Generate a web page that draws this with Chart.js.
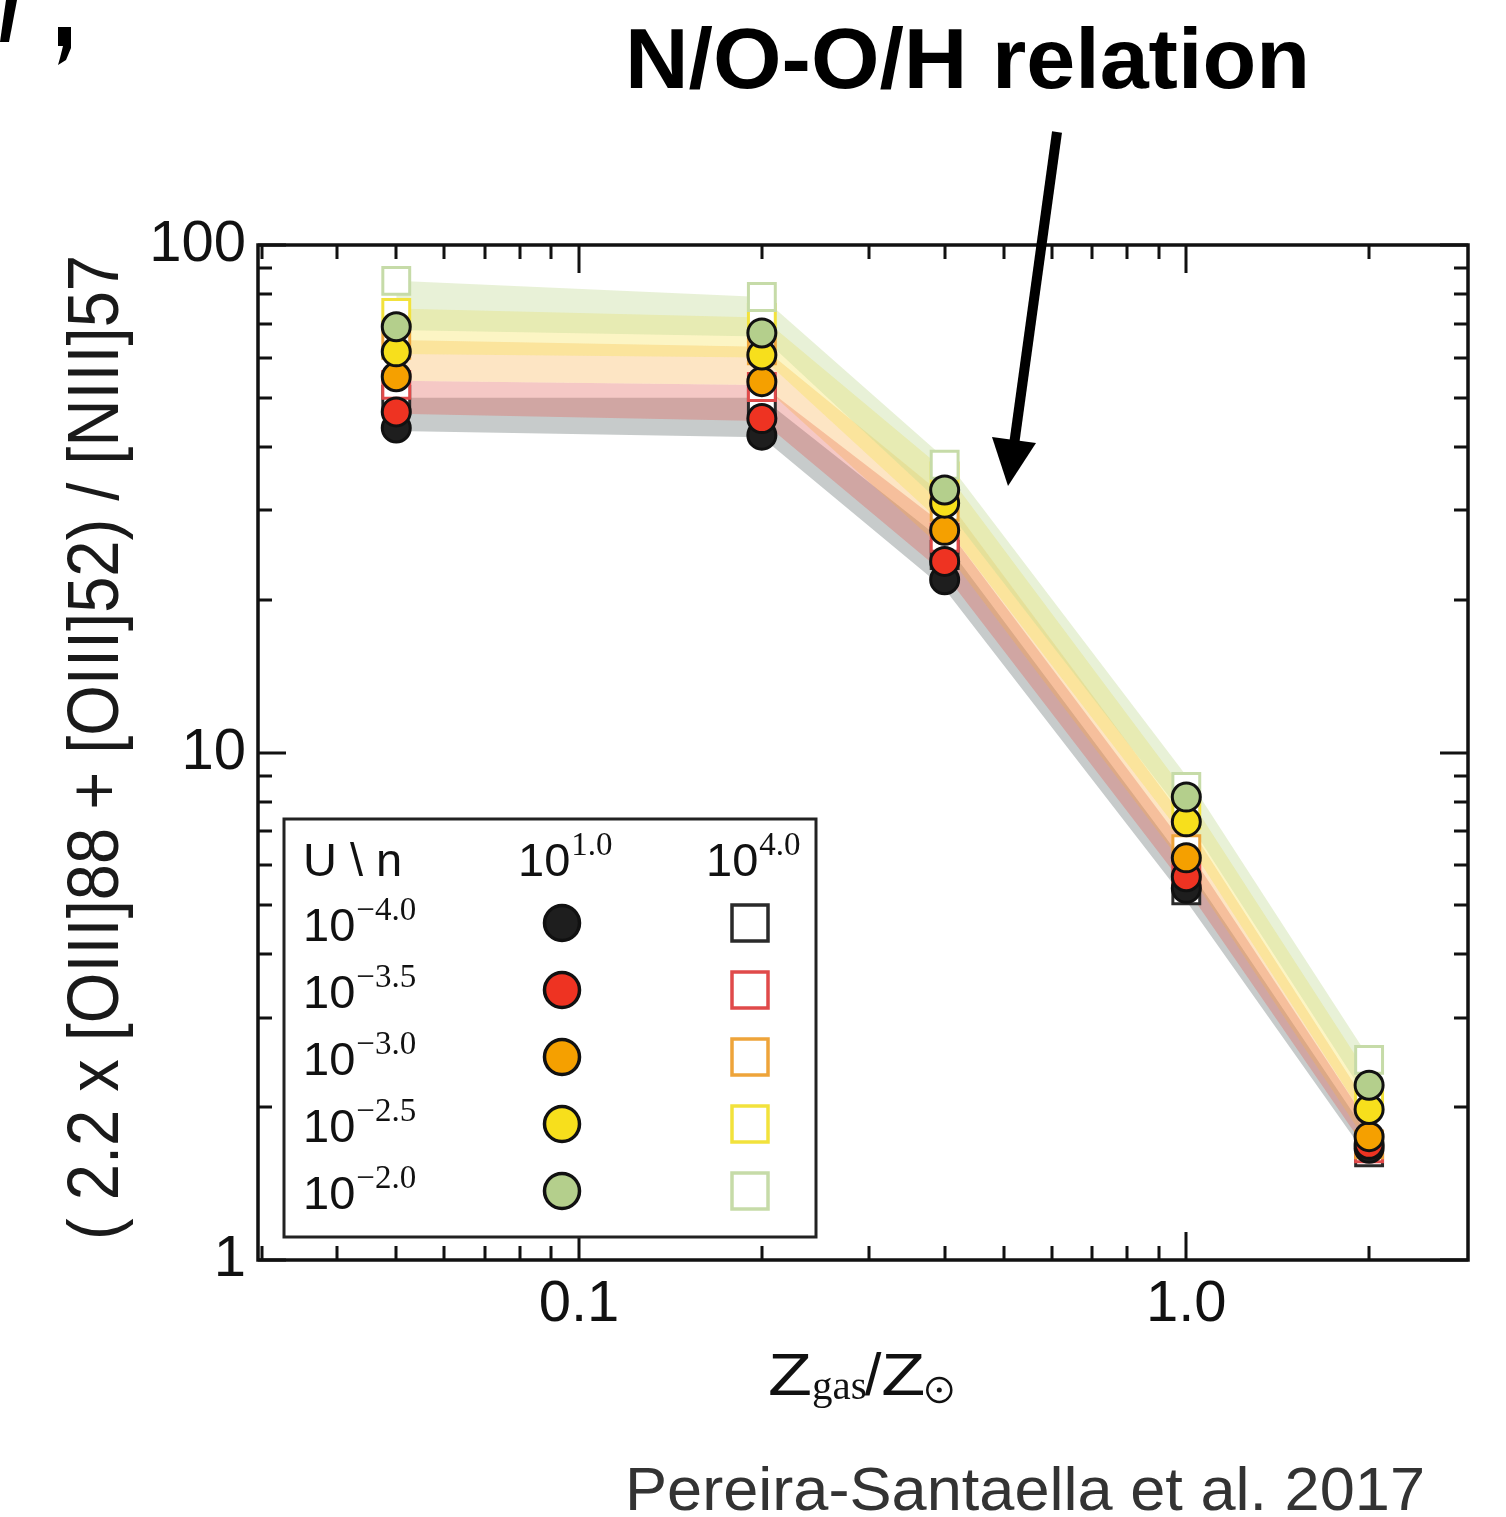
<!DOCTYPE html>
<html><head><meta charset="utf-8">
<script src="https://cdn.jsdelivr.net/npm/chart.js@4.4.0/dist/chart.umd.min.js"></script>
<style>html,body{margin:0;padding:0;background:#fff;}#wrap{position:relative;width:1506px;height:1517px;}</style>
</head><body><div id="wrap"><canvas id="c"></canvas></div>
<script>
// ---- data ----
const zValues = [0.05, 0.2, 0.4, 1.0, 2.0];
const uLabels = ['\u22124.0', '\u22123.5', '\u22123.0', '\u22122.5', '\u22122.0'];
const nLabels = ['1.0', '4.0'];
// n = 10^1 (circles)
const lowN_Um40 = [43.6, 42.2, 21.9, 5.40, 1.66];
const lowN_Um35 = [46.9, 45.5, 23.8, 5.69, 1.69];
const lowN_Um30 = [55.0, 53.8, 27.4, 6.20, 1.75];
const lowN_Um25 = [61.6, 60.7, 31.0, 7.30, 1.98];
const lowN_Um20 = [69.0, 67.1, 32.9, 8.17, 2.21];
// n = 10^4 (squares)
const highN_Um40 = [49.5, 49.5, 24.5, 5.35, 1.63];
const highN_Um35 = [53.0, 52.5, 26.5, 5.75, 1.66];
const highN_Um30 = [63.6, 62.0, 30.5, 6.45, 1.69];
const highN_Um25 = [73.5, 71.8, 35.0, 7.55, 2.08];
const highN_Um20 = [85.0, 79.0, 36.9, 8.55, 2.48];
// shaded model ranges (upper / lower edge of each band)
const bandHi_Um40 = [50.0, 50.0, 26.0, 6.00, 1.75];
const bandLo_Um40 = [43.0, 41.8, 21.0, 5.10, 1.58];
const bandHi_Um35 = [54.0, 53.0, 28.0, 6.50, 1.85];
const bandLo_Um35 = [46.5, 45.0, 22.5, 5.40, 1.62];
const bandHi_Um30 = [65.0, 63.0, 32.0, 7.30, 2.00];
const bandLo_Um30 = [54.0, 53.0, 25.0, 5.90, 1.68];
const bandHi_Um25 = [75.0, 72.0, 36.0, 8.30, 2.30];
const bandLo_Um25 = [61.0, 60.0, 28.0, 6.70, 1.85];
const bandHi_Um20 = [85.0, 79.0, 38.0, 9.00, 2.50];
const bandLo_Um20 = [68.0, 66.0, 30.5, 7.40, 2.05];
const xTickValues = [0.1, 1];
const xTickLabels = ['0.1', '1.0'];
const yTickValues = [1, 10, 100];
const yTickLabels = ['1', '10', '100'];

const lowN = [lowN_Um40, lowN_Um35, lowN_Um30, lowN_Um25, lowN_Um20];
const highN = [highN_Um40, highN_Um35, highN_Um30, highN_Um25, highN_Um20];
const bandHi = [bandHi_Um40, bandHi_Um35, bandHi_Um30, bandHi_Um25, bandHi_Um20];
const bandLo = [bandLo_Um40, bandLo_Um35, bandLo_Um30, bandLo_Um25, bandLo_Um20];

// ---- styles ----
const circleFill = ['#1e1e1e', '#ee3322', '#f5a000', '#f7df1c', '#b4cf8c'];
const squareEdge = ['#2a2a2a', '#e04a4a', '#eea43a', '#f2e23c', '#c6dba8'];
const bandFill = ['rgba(115,125,125,0.40)', 'rgba(225,95,85,0.34)', 'rgba(248,175,70,0.32)', 'rgba(245,225,70,0.32)', 'rgba(195,218,150,0.38)'];

const pts = arr => arr.map((v, i) => ({x: zValues[i], y: v}));
const datasets = [];
for (let k = 4; k >= 0; k--) {
  datasets.push({type:'line', data: pts(lowN[k]), showLine:false, pointStyle:'circle', pointRadius:14,
    pointBackgroundColor: circleFill[k], pointBorderColor:'#111', pointBorderWidth:3, borderWidth:0, fill:false});
}
for (let k = 4; k >= 0; k--) {
  datasets.push({type:'line', data: pts(highN[k]), showLine:false, pointStyle:'rect', pointRadius:19,
    pointBackgroundColor:'#ffffff', pointBorderColor: squareEdge[k], pointBorderWidth:3, borderWidth:0, fill:false});
}
for (let k = 4; k >= 0; k--) {
  const idx = datasets.length;
  datasets.push({type:'line', data: pts(bandHi[k]), showLine:true, pointRadius:0, borderWidth:0,
    borderColor:'rgba(0,0,0,0)', backgroundColor: bandFill[k], fill: idx + 1});
  datasets.push({type:'line', data: pts(bandLo[k]), showLine:true, pointRadius:0, borderWidth:0,
    borderColor:'rgba(0,0,0,0)', backgroundColor:'rgba(0,0,0,0)', fill:false});
}

const xMinor = [], yMinor = [];
for (let d of [0.01, 0.1, 1]) for (let m = 2; m <= 9; m++) { const v = d * m; if (v > 0.0296 && v < 2.91) xMinor.push(v); }
for (let d of [1, 10]) for (let m = 2; m <= 9; m++) yMinor.push(d * m);

function fitText(ctx, txt, x, y, targetW) {
  const w = ctx.measureText(txt).width;
  ctx.save(); ctx.translate(x, y); ctx.scale(targetW / w, 1); ctx.fillText(txt, 0, 0); ctx.restore();
}

const framePlugin = {
  id: 'frameTicks',
  afterDatasetsDraw(chart) {
    const {ctx, chartArea: a, scales: {x, y}} = chart;
    ctx.save();
    ctx.strokeStyle = '#111'; ctx.lineWidth = 3; ctx.lineCap = 'butt';
    ctx.beginPath();
    const vt = (px, len) => { ctx.moveTo(px, a.bottom); ctx.lineTo(px, a.bottom - len); ctx.moveTo(px, a.top); ctx.lineTo(px, a.top + len); };
    const ht = (py, len) => { ctx.moveTo(a.left, py); ctx.lineTo(a.left + len, py); ctx.moveTo(a.right, py); ctx.lineTo(a.right - len, py); };
    xMinor.forEach(v => vt(Math.round(x.getPixelForValue(v)), 14));
    xTickValues.forEach(v => vt(Math.round(x.getPixelForValue(v)), 28));
    yMinor.forEach(v => ht(Math.round(y.getPixelForValue(v)), 14));
    yTickValues.forEach(v => ht(Math.round(y.getPixelForValue(v)), 28));
    ctx.stroke();
    ctx.lineWidth = 3.5;
    ctx.strokeRect(a.left, a.top, a.right - a.left, a.bottom - a.top);
    ctx.restore();
  },
  afterDraw(chart) {
    const ctx = chart.ctx;
    ctx.save();
    // legend box
    const L = 284, T = 819, R = 816, B = 1237;
    ctx.fillStyle = '#fff'; ctx.fillRect(L, T, R - L, B - T);
    ctx.strokeStyle = '#222'; ctx.lineWidth = 3; ctx.strokeRect(L, T, R - L, B - T);
    ctx.fillStyle = '#111'; ctx.textBaseline = 'alphabetic'; ctx.textAlign = 'left';
    ctx.font = '47px "Liberation Sans", Arial, sans-serif';
    ctx.fillText('U \\ n', 303, 876);
    const supFont = '33px "Liberation Serif", "DejaVu Serif", serif';
    const tenWithSup = (xx, base, sup) => {
      ctx.font = '47px "Liberation Sans", Arial, sans-serif';
      ctx.fillText('10', xx, base);
      const w = ctx.measureText('10').width;
      ctx.font = supFont;
      ctx.fillText(sup, xx + w + 1, base - 21);
    };
    tenWithSup(518, 876, nLabels[0]);
    tenWithSup(706, 876, nLabels[1]);
    const rowY = [923, 990, 1057, 1124, 1191];
    for (let k = 0; k < 5; k++) {
      const cy = rowY[k];
      tenWithSup(303, cy + 18, uLabels[k]);
      ctx.beginPath(); ctx.arc(562, cy, 17.5, 0, Math.PI * 2);
      ctx.fillStyle = circleFill[k]; ctx.fill();
      ctx.lineWidth = 3.5; ctx.strokeStyle = '#111'; ctx.stroke();
      ctx.fillStyle = '#111';
      ctx.lineWidth = 3.5; ctx.strokeStyle = squareEdge[k];
      ctx.strokeRect(750 - 18, cy - 18, 36, 36);
    }
    // title
    ctx.fillStyle = '#000';
    ctx.font = 'bold 86px "Liberation Sans", Arial, sans-serif';
    fitText(ctx, 'N/O-O/H relation', 625, 88, 685);
    // arrow
    ctx.strokeStyle = '#000'; ctx.lineWidth = 10; ctx.lineCap = 'butt';
    ctx.beginPath(); ctx.moveTo(1057, 132); ctx.lineTo(1014, 445); ctx.stroke();
    ctx.beginPath(); ctx.moveTo(992, 437); ctx.lineTo(1036, 443); ctx.lineTo(1008, 486); ctx.closePath(); ctx.fill();
    // top-left fragment marks
    ctx.beginPath(); ctx.moveTo(6, 0); ctx.lineTo(17, 0); ctx.lineTo(9, 42); ctx.lineTo(0, 42); ctx.closePath(); ctx.fill();
    ctx.beginPath(); ctx.moveTo(58, 27); ctx.lineTo(71, 27); ctx.lineTo(71, 48); ctx.lineTo(66, 60); ctx.lineTo(58, 65); ctx.lineTo(60, 58); ctx.lineTo(63, 46); ctx.lineTo(58, 46); ctx.closePath(); ctx.fill();
    // citation
    ctx.fillStyle = '#333';
    ctx.font = '62px "Liberation Sans", Arial, sans-serif';
    fitText(ctx, 'Pereira-Santaella et al. 2017', 625, 1510, 800);
    // y-axis title
    ctx.fillStyle = '#1a1a1a';
    ctx.save();
    ctx.translate(118, 1240); ctx.rotate(-Math.PI / 2);
    ctx.font = '72px "Liberation Sans Narrow", "Liberation Sans", Arial, sans-serif';
    ctx.textBaseline = 'alphabetic';
    const yt = '( 2.2 x [OIII]88 + [OIII]52) / [NIII]57';
    const yw = ctx.measureText(yt).width;
    ctx.scale(985 / yw, 1); ctx.fillText(yt, 0, 0);
    ctx.restore();
    // x-axis title
    ctx.fillStyle = '#111';
    let cx = 768;
    ctx.font = '60px "Liberation Sans", Arial, sans-serif';
    ctx.save(); ctx.translate(cx, 1395); ctx.scale(1.2, 1); ctx.fillText('Z', 0, 0); ctx.restore();
    cx += ctx.measureText('Z').width * 1.2;
    ctx.font = '41px "Liberation Serif", "DejaVu Serif", serif';
    ctx.fillText('gas', cx, 1399); cx += ctx.measureText('gas').width;
    ctx.font = '60px "Liberation Sans", Arial, sans-serif';
    ctx.fillText('/', cx - 2, 1395); cx += ctx.measureText('/').width - 2;
    ctx.save(); ctx.translate(cx, 1395); ctx.scale(1.2, 1); ctx.fillText('Z', 0, 0); ctx.restore();
    cx += ctx.measureText('Z').width * 1.2;
    ctx.beginPath(); ctx.lineWidth = 2.5; ctx.strokeStyle = '#111';
    ctx.arc(cx + 14, 1390, 12, 0, Math.PI * 2); ctx.stroke();
    ctx.beginPath(); ctx.arc(cx + 14, 1390, 2.5, 0, Math.PI * 2); ctx.fill();
    ctx.restore();
  }
};

const tickFont = {family: '"Liberation Sans", Arial, sans-serif', size: 58};
new Chart(document.getElementById('c'), {
  type: 'line',
  data: {datasets},
  options: {
    responsive: true, maintainAspectRatio: false, animation: false, devicePixelRatio: 1,
    layout: {padding: {top: 245, right: 38, left: 0, bottom: 0}},
    plugins: {legend: {display: false}, tooltip: {enabled: false}, filler: {drawTime: 'beforeDatasetsDraw'}},
    scales: {
      x: {type: 'logarithmic', min: 0.0296, max: 2.91,
        grid: {display: false, drawTicks: false}, border: {display: false},
        afterBuildTicks: s => { s.ticks = xTickValues.map(v => ({value: v})); },
        afterFit: s => { s.height = 257; },
        ticks: {autoSkip: false, maxRotation: 0, padding: 10, color: '#111', font: tickFont,
          callback: (v, i) => xTickLabels[i]}},
      y: {type: 'logarithmic', min: 1, max: 100,
        grid: {display: false, drawTicks: false}, border: {display: false},
        afterBuildTicks: s => { s.ticks = yTickValues.map(v => ({value: v})); },
        afterFit: s => { s.width = 258; },
        ticks: {autoSkip: false, padding: 12, color: '#111', font: tickFont,
          callback: (v, i) => yTickLabels[i]}}
    }
  },
  plugins: [framePlugin]
});
</script></body></html>
